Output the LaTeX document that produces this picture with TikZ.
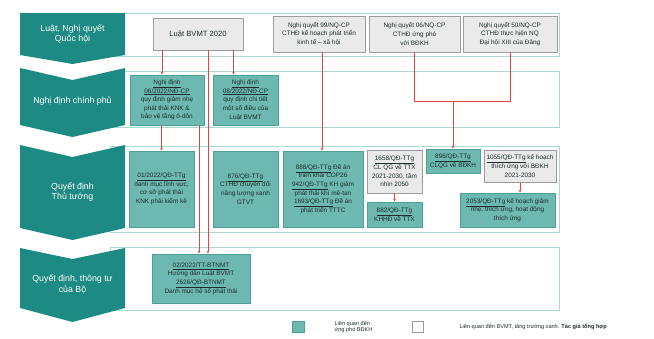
\documentclass[tikz,border=0pt]{standalone}
\usepackage{fontspec}
\setmainfont{Liberation Sans}
\usetikzlibrary{arrows.meta,calc}

\definecolor{headteal}{HTML}{1E8A84}
\definecolor{panelline}{HTML}{A9D9D3}
\definecolor{tealfill}{HTML}{6DB8B0}
\definecolor{tealline}{HTML}{4E9F97}
\definecolor{grayfill}{HTML}{EAEAEA}
\definecolor{grayline}{HTML}{9C9C9C}
\definecolor{boxtext}{HTML}{1C2E2C}
\definecolor{redline}{HTML}{E0453E}

\begin{document}
\begin{tikzpicture}[x=1pt,y=-1pt,>=Latex,
	panel/.style={draw=panelline,line width=0.9pt,fill=white},
	head/.style={fill=headteal,draw=none},
	headtext/.style={text=white,align=center,font=\fontsize{8.8}{10.6}\selectfont},
	docbox/.style={line width=0.6pt,inner sep=1pt,align=center,text=boxtext,
		font=\fontsize{6.4}{8.6}\selectfont},
	tealbox/.style={docbox,draw=tealline,fill=tealfill},
	graybox/.style={docbox,draw=grayline,fill=grayfill},
	arr/.style={draw=redline,line width=0.6pt,-{Latex[length=2.6pt,width=2.6pt]}},
	link/.style={draw=redline,line width=0.6pt},
	legtext/.style={anchor=west,text=boxtext,align=left,font=\fontsize{5.6}{6.4}\selectfont}]
	
	\useasboundingbox (0,0) rectangle (654,338);
	
	% ======================================================
	% Row panels
	% ======================================================
	\draw[panel] (110,13) rectangle (559,56);
	\draw[panel] (110,71) rectangle (559,127);
	\draw[panel] (110,146) rectangle (559,232);
	\draw[panel] (110,247) rectangle (559,310);
	
	% ======================================================
	% Level headers (chevrons on the left)
	% ======================================================
	\fill[head] (20,13) -- (125,13) -- (125,55) -- (72.5,64) -- (20,55) -- cycle;
	\fill[head] (20,68) -- (72.5,80) -- (125,68) -- (125,125) -- (72.5,137) -- (20,125) -- cycle;
	\fill[head] (20,145) -- (72.5,157) -- (125,145) -- (125,228) -- (72.5,240) -- (20,228) -- cycle;
	\fill[head] (20,248) -- (72.5,259) -- (125,248) -- (125,308) -- (72.5,322) -- (20,308) -- cycle;
	
	\node[headtext] (h1) at (72.5,34) {Luật, Nghị quyết\\Quốc hội};
	\node[headtext] (h2) at (72.5,101) {Nghị định chính phủ};
	\node[headtext] (h3) at (72.5,192) {Quyết định\\Thủ tướng};
	\node[headtext] (h4) at (72.5,284) {Quyết định, thông tư\\của Bộ};
	
	% ======================================================
	% Row 1: laws and resolutions
	% ======================================================
	\node[graybox,minimum width=90pt,minimum height=32pt,font=\fontsize{7.6}{9}\selectfont]
	(luat) at (198,34) {Luật BVMT 2020};
	\node[graybox,minimum width=92pt,minimum height=36pt] (nq99) at (319,34)
	{Nghị quyết 99/NQ-CP\\CTHĐ kế hoạch phát triển\\kinh tế -- xã hội};
	\node[graybox,minimum width=91pt,minimum height=36pt] (nq06) at (414.5,34)
	{Nghị quyết 06/NQ-CP\\CTHĐ ứng phó\\với BĐKH};
	\node[graybox,minimum width=94pt,minimum height=36pt] (nq50) at (510,34)
	{Nghị quyết 50/NQ-CP\\CTHĐ thực hiện NQ\\Đại hội XIII của Đảng};
	
	% ======================================================
	% Row 2: decrees
	% ======================================================
	\node[tealbox,minimum width=74pt,minimum height=50pt] (nd06) at (167,100)
	{\underline{Nghị định}\\\underline{06/2022/NĐ-CP}\\quy định giảm nhẹ\\phát thải KNK \&\\bảo vệ tầng ô-dôn};
	\node[tealbox,minimum width=65pt,minimum height=50pt] (nd08) at (245.5,100)
	{\underline{Nghị định}\\\underline{08/2022/NĐ-CP}\\quy định chi tiết\\một số điều của\\Luật BVMT};
	
	% ======================================================
	% Row 3: Prime Minister decisions
	% ======================================================
	\node[tealbox,minimum width=65pt,minimum height=76pt] (qd01) at (161.5,189)
	{\underline{01/2022/QĐ-TTg}\\danh mục lĩnh vực,\\cơ sở phát thải\\KNK phải kiểm kê};
	\node[tealbox,minimum width=65pt,minimum height=76pt] (qd876) at (245.5,189)
	{\underline{876/QĐ-TTg}\\CTHĐ chuyển đổi\\năng lượng xanh\\GTVT};
	\node[tealbox,minimum width=80pt,minimum height=76pt] (qd888) at (323,189)
	{\underline{888/QĐ-TTg} Đề án\\triển khai COP26\\\underline{942/QĐ-TTg} KH giảm\\phát thải khí mê-tan\\\underline{1693/QĐ-TTg} Đề án\\phát triển TTTC};
	\node[graybox,minimum width=55pt,minimum height=43pt] (qd1658) at (394.5,171.5)
	{\underline{1658/QĐ-TTg}\\CL QG về TTX\\2021-2030, tầm\\nhìn 2050};
	\node[tealbox,minimum width=55pt,minimum height=25pt] (qd882) at (394.5,214.5)
	{\underline{882/QĐ-TTg}\\KHHĐ về TTX};
	\node[tealbox,minimum width=54pt,minimum height=24pt] (qd896) at (453,161)
	{\underline{896/QĐ-TTg}\\CLQG về BĐKH};
	\node[graybox,minimum width=72pt,minimum height=32pt] (qd1055) at (520,166)
	{\underline{1055/QĐ-TTg} kế hoạch\\thích ứng với BĐKH\\2021-2030};
	\node[tealbox,minimum width=95pt,minimum height=34pt] (qdkh) at (507.5,210)
	{\underline{2053/QĐ-TTg} kế hoạch giảm\\nhẹ, thích ứng, hoạt động\\thích ứng};
	
	% ======================================================
	% Row 4: ministry decisions and circulars
	% ======================================================
	\node[tealbox,minimum width=98pt,minimum height=49pt] (bo) at (201,278.5)
	{\underline{02/2022/TT-BTNMT}\\Hướng dẫn Luật BVMT\\\underline{2626/QĐ-BTNMT}\\Danh mục hệ số phát thải};
	
	% ======================================================
	% Red links
	% ======================================================
	\coordinate (pA) at ([xshift=-5pt]nd06.north);
	\draw[arr] (luat.south -| pA) -- (pA);
	\coordinate (pB) at ([xshift=-12pt]nd08.north);
	\draw[arr] (luat.south -| pB) -- (pB);
	\coordinate (pC) at ([xshift=7pt]bo.north);
	\draw[arr] (luat.south -| pC) -- (pC);
	\coordinate (pD) at ([xshift=-2pt]bo.north);
	\draw[arr] (nd06.south -| pD) -- (pD);
	\draw[arr] (nd06.south -| qd01.north) -- (qd01.north);
	\coordinate (pE) at ([xshift=-1pt]qd888.north);
	\draw[arr] (nq99.south -| pE) -- (pE);
	
	% NQ 06 + NQ 50 joined
	\coordinate (j) at ($(qd896.north)+(0,-47)$);
	\draw[link] (nq06.south) |- (j) -| (nq50.south);
	\draw[arr] (j) -- (qd896.north);
	
	\draw[arr] (qd1658.south) -- (qd882.north);
	\draw[arr] (qd1055.south) -- (qd1055.south |- qdkh.north);
	
	% ======================================================
	% Legend
	% ======================================================
	\node[tealbox,minimum width=12pt,minimum height=11pt] (leg1) at (298.5,326.5) {};
	\node[legtext] (leg1t) at (331,327) {Liên quan đến\\ứng phó BĐKH};
	\node[graybox,fill=white,minimum width=11pt,minimum height=11pt] (leg2) at (417.5,326.5) {};
	\node[legtext] (leg2t) at (456,327)
	{Liên quan đến BVMT, tăng trưởng xanh. \textbf{Tác giả tổng hợp}};
	
\end{tikzpicture}
\end{document}
